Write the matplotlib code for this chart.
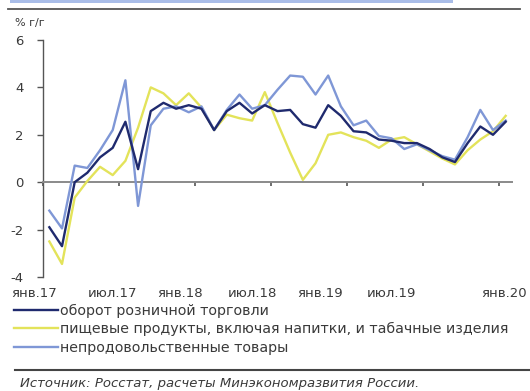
import matplotlib
matplotlib.use("Agg")
import matplotlib.pyplot as plt
from matplotlib.lines import Line2D
import numpy as np

plt.rcParams['font.family'] = ['DejaVu Sans']

# Monthly year-on-year growth, % (Jan 2017 - Jan 2020)
months = np.arange(37)
retail_total = [-1.9, -2.7, 0.0, 0.4, 1.05, 1.45, 2.55, 0.55, 3.0, 3.35, 3.1, 3.25, 3.1,
                2.2, 3.0, 3.35, 2.9, 3.25, 3.0, 3.05, 2.45, 2.3, 3.25, 2.8, 2.15,
                2.1, 1.8, 1.75, 1.65, 1.65, 1.4, 1.05, 0.85, 1.65, 2.35, 2.0, 2.55]
food = [-2.5, -3.45, -0.65, 0.05, 0.65, 0.3, 0.9, 2.3, 4.0, 3.75, 3.25, 3.75, 3.15,
        2.2, 2.85, 2.7, 2.6, 3.8, 2.5, 1.25, 0.1, 0.8, 2.0, 2.1, 1.9,
        1.75, 1.45, 1.8, 1.9, 1.6, 1.3, 1.0, 0.75, 1.35, 1.8, 2.15, 2.8]
non_food = [-1.2, -1.95, 0.7, 0.6, 1.35, 2.2, 4.3, -1.0, 2.4, 3.1, 3.2, 2.95, 3.2,
            2.2, 3.05, 3.7, 3.1, 3.25, 3.9, 4.5, 4.45, 3.7, 4.5, 3.2, 2.4,
            2.6, 1.95, 1.85, 1.4, 1.6, 1.35, 1.1, 0.95, 1.9, 3.05, 2.2, 2.6]

series_names = ["оборот розничной торговли",
                "пищевые продукты, включая напитки, и табачные изделия",
                "непродовольственные товары"]
tick_labels = ["янв.17", "июл.17", "янв.18", "июл.18", "янв.19", "июл.19", "янв.20"]
y_ticks = [-4, -2, 0, 2, 4, 6]

c_total = "#1f2a6e"
c_food = "#e3e35a"
c_nonfood = "#7f97d6"
txt = "#3a3a3a"

W, H = 530, 391
fig = plt.figure(figsize=(W / 100, H / 100), dpi=100)

L, R, T, B = 43, 512, 40, 277
ax = fig.add_axes([L / W, 1 - B / H, (R - L) / W, (B - T) / H])

ax.plot(months, food, color=c_food, lw=1.7, solid_joinstyle="round", zorder=3)
ax.plot(months, non_food, color=c_nonfood, lw=1.7, solid_joinstyle="round", zorder=4)
ax.plot(months, retail_total, color=c_total, lw=1.7, solid_joinstyle="round", zorder=5)

ax.set_xlim(-0.5, 36.5)
ax.set_ylim(-4, 6)

for s in ("top", "right"):
    ax.spines[s].set_visible(False)
ax.spines["left"].set_color("#555555")
ax.spines["left"].set_linewidth(1.0)
ax.spines["bottom"].set_position(("data", 0))
ax.spines["bottom"].set_color("#8a8a8a")
ax.spines["bottom"].set_linewidth(1.4)

ax.set_yticks(y_ticks)
ax.set_yticklabels([str(v) for v in y_ticks])
ax.tick_params(axis="y", direction="out", length=4, width=1, color="#555555",
               pad=10, labelsize=9.5, labelcolor=txt)

# category boundaries every six months
ax.set_xticks(np.arange(-0.5, 37, 6))
ax.set_xticklabels([])
ax.tick_params(axis="x", direction="out", length=3, width=1.2, color="#555555")

# date labels sit in a row below the plot area
label_pos = [-1.2, 4.95, 10.3, 16.0, 21.35, 26.95, 35.9]
for xp, lab in zip(label_pos, tick_labels):
    ax.text(xp, -0.07, lab, transform=ax.get_xaxis_transform(), ha="center", va="center",
            fontsize=9.5, color=txt, clip_on=False)

fig.text(15 / W, 1 - 23 / H, "% г/г", fontsize=8, color=txt, va="center", ha="left")

handles = [Line2D([], [], color=c_total, lw=1.7),
           Line2D([], [], color=c_food, lw=1.7),
           Line2D([], [], color=c_nonfood, lw=1.7)]
fig.legend(handles, series_names, loc="upper left", bbox_to_anchor=(14 / W, 1 - 304 / H),
           frameon=False, fontsize=10.3, handlelength=3.1, handletextpad=0.15,
           labelspacing=0.3, borderpad=0, borderaxespad=0, labelcolor=txt)

# header and footer rules
fig.add_artist(Line2D([8 / W, 520 / W], [1 - 8.5 / H, 1 - 8.5 / H], color="#555555", lw=1.3))
fig.add_artist(plt.Rectangle((10 / W, 1 - 3 / H), 443 / W, 3 / H, color="#a9bde8",
                             transform=fig.transFigure, lw=0))
fig.add_artist(Line2D([15 / W, 1.0], [1 - 370 / H, 1 - 370 / H], color="#444444", lw=1.5))

fig.text(20 / W, 1 - 384 / H, "Источник: Росстат, расчеты Минэкономразвития России.",
         fontsize=9.5, style="italic", color=txt, va="center", ha="left")

fig.savefig("out.png", dpi=100, facecolor="white")
